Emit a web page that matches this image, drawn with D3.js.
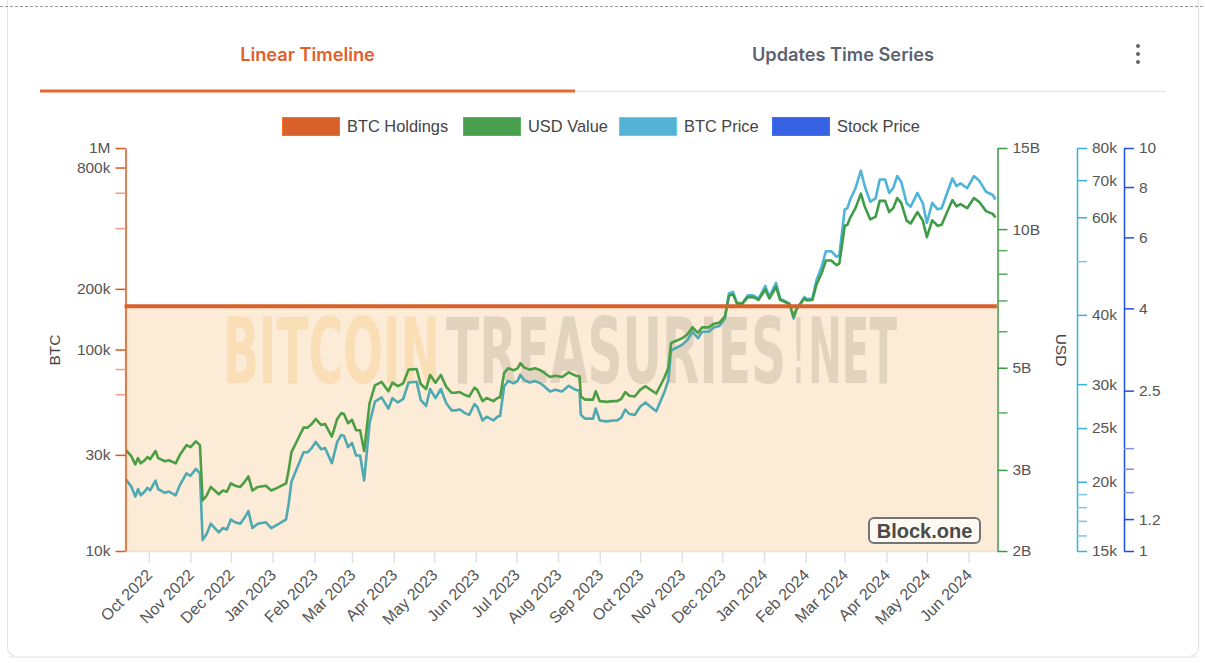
<!DOCTYPE html>
<html><head><meta charset="utf-8">
<script src="https://cdn.jsdelivr.net/npm/d3@7/dist/d3.min.js"></script>
<style>
html,body{margin:0;padding:0;background:#fff;}
svg{display:block;font-family:"Liberation Sans",Arial,Helvetica,sans-serif;}
</style></head><body>
<svg id="c" width="1205" height="663"></svg>
<script>
// ---------------- DATA ----------------
const dates = [
"2022-09-14","2022-09-18","2022-09-21","2022-09-23","2022-09-25","2022-09-28","2022-09-30","2022-10-02","2022-10-06","2022-10-08",
"2022-10-13","2022-10-16","2022-10-21","2022-10-24","2022-10-29","2022-11-01","2022-11-05","2022-11-08","2022-11-10","2022-11-13",
"2022-11-16","2022-11-19","2022-11-22","2022-11-25","2022-11-28","2022-12-01","2022-12-04","2022-12-08","2022-12-11","2022-12-14",
"2022-12-17","2022-12-21","2022-12-27","2022-12-31","2023-01-04","2023-01-11","2023-01-13","2023-01-15","2023-01-21","2023-01-24",
"2023-01-27","2023-01-30","2023-02-02","2023-02-06","2023-02-09","2023-02-14","2023-02-18","2023-02-21","2023-02-23","2023-02-26",
"2023-03-01","2023-03-04","2023-03-07","2023-03-10","2023-03-14","2023-03-18","2023-03-23","2023-03-28","2023-03-31","2023-04-04",
"2023-04-08","2023-04-12","2023-04-18","2023-04-21","2023-04-25","2023-04-28","2023-05-02","2023-05-06","2023-05-10","2023-05-14",
"2023-05-17","2023-05-20","2023-05-24","2023-05-27","2023-05-31","2023-06-02","2023-06-06","2023-06-09","2023-06-14","2023-06-17",
"2023-06-19","2023-06-22","2023-06-25","2023-06-29","2023-07-02","2023-07-04","2023-07-07","2023-07-11","2023-07-15","2023-07-19",
"2023-07-22","2023-07-26","2023-07-30","2023-08-04","2023-08-09","2023-08-14","2023-08-17","2023-08-18","2023-08-21","2023-08-27",
"2023-08-29","2023-09-01","2023-09-06","2023-09-11","2023-09-14","2023-09-17","2023-09-20","2023-09-23","2023-09-27","2023-10-01",
"2023-10-05","2023-10-08","2023-10-13","2023-10-19","2023-10-22","2023-10-24","2023-11-01","2023-11-05","2023-11-09","2023-11-13",
"2023-11-16","2023-11-21","2023-11-25","2023-11-29","2023-12-03","2023-12-06","2023-12-09","2023-12-12","2023-12-16","2023-12-20",
"2023-12-24","2023-12-28","2024-01-02","2024-01-05","2024-01-10","2024-01-13","2024-01-17","2024-01-20","2024-01-23","2024-01-25",
"2024-01-31","2024-02-02","2024-02-06","2024-02-09","2024-02-13","2024-02-16","2024-02-20","2024-02-24","2024-02-26","2024-03-01",
"2024-03-03","2024-03-05","2024-03-09","2024-03-13","2024-03-16","2024-03-20","2024-03-24","2024-03-27","2024-03-31","2024-04-03",
"2024-04-06","2024-04-09","2024-04-12","2024-04-16","2024-04-19","2024-04-24","2024-04-28","2024-05-01","2024-05-05","2024-05-09",
"2024-05-12","2024-05-16","2024-05-20","2024-05-23","2024-05-26","2024-05-31","2024-06-05","2024-06-09","2024-06-14","2024-06-19",
"2024-06-21"];

// BTC price, thousands of USD
const btcPriceK = [
20.2,19.6,18.8,19.4,18.9,19.2,19.5,19.3,20.1,19.4,
19.1,19.2,18.9,19.7,20.7,20.5,21.1,20.7,15.7,16.1,
16.8,16.5,16.2,16.5,16.4,17.1,16.9,16.8,17.2,17.7,
16.5,16.8,16.9,16.5,16.7,17.1,18.3,20.0,21.7,22.6,
22.6,23.0,23.6,22.9,23.0,21.6,23.6,24.3,24.2,23.1,
23.5,22.3,22.3,20.1,25.5,27.9,28.4,27.1,28.3,27.8,
28.2,30.2,30.3,28.1,27.4,29.4,28.3,29.4,27.7,26.9,
26.9,27.0,26.6,26.4,27.6,27.3,25.8,26.2,25.8,26.2,
26.3,29.7,30.4,30.1,30.4,31.2,30.5,30.2,30.4,30.1,
29.7,29.1,29.3,29.1,29.8,29.3,29.2,26.4,26.0,26.0,
27.1,25.8,25.7,25.8,25.8,26.1,27.0,26.5,26.4,27.3,
27.8,27.4,26.8,29.0,30.5,34.5,35.3,36.0,37.3,36.3,
37.3,37.3,38.0,38.2,39.4,43.7,44.0,42.0,42.0,43.4,
43.4,42.8,45.1,43.1,45.7,42.8,42.3,41.9,39.4,40.8,
43.1,42.7,42.8,46.2,49.0,52.1,52.1,50.9,51.3,62.0,
62.3,64.5,67.7,72.8,68.1,64.0,64.9,70.2,70.2,66.4,
67.7,71.2,69.5,63.6,62.7,66.4,63.6,58.6,63.7,62.0,
62.3,66.3,70.5,68.3,69.1,67.7,71.2,69.8,66.7,65.8,
64.6];

// USD value of holdings, billions of USD
const usdValueB = [
3.313,3.214,3.083,3.182,3.100,3.149,3.198,3.165,3.296,3.182,
3.132,3.149,3.100,3.231,3.395,3.362,3.460,3.395,2.575,2.640,
2.755,2.706,2.657,2.706,2.690,2.804,2.772,2.755,2.821,2.903,
2.706,2.755,2.772,2.706,2.739,2.804,3.001,3.280,3.559,3.706,
3.706,3.772,3.870,3.756,3.772,3.542,3.870,3.985,3.969,3.788,
3.854,3.657,3.657,3.296,4.182,4.576,4.658,4.444,4.641,4.559,
4.625,4.953,4.969,4.608,4.494,4.822,4.641,4.822,4.543,4.412,
4.412,4.428,4.362,4.330,4.526,4.477,4.231,4.297,4.231,4.297,
4.313,4.871,4.986,4.936,4.986,5.117,5.002,4.953,4.986,4.936,
4.871,4.772,4.805,4.772,4.887,4.805,4.789,4.330,4.264,4.264,
4.444,4.231,4.215,4.231,4.231,4.280,4.428,4.346,4.330,4.477,
4.559,4.494,4.395,4.756,5.002,5.658,5.789,5.904,6.117,5.953,
6.117,6.117,6.232,6.265,6.462,7.167,7.216,6.888,6.888,7.118,
7.118,7.019,7.396,7.068,7.495,7.019,6.937,6.872,6.462,6.691,
7.068,7.003,7.019,7.577,8.036,8.544,8.544,8.348,8.413,10.168,
10.217,10.578,11.103,11.939,11.168,10.496,10.644,11.513,11.513,10.890,
11.103,11.677,11.398,10.430,10.283,10.890,10.430,9.610,10.447,10.168,
10.217,10.873,11.562,11.201,11.332,11.103,11.677,11.447,10.939,10.791,
10.594];

const holdingsDates = ["2022-09-13","2024-06-22"];
const holdingsBTC = [164000,164000];
const stockPrice = []; // no stock price points shown

const legendNames = ["BTC Holdings","USD Value","BTC Price","Stock Price"];
const legendColors = ["#d9602a","#4a9f4f","#52b3d5","#3762e4"];

const tabNames = ["Linear Timeline","Updates Time Series"];
const companyName = "Block.one";
const watermarkParts = ["BITCOIN","TREASURIES","!","NET"];

const monthTicks = ["2022-10-01","2022-11-01","2022-12-01","2023-01-01","2023-02-01","2023-03-01","2023-04-01",
"2023-05-01","2023-06-01","2023-07-01","2023-08-01","2023-09-01","2023-10-01","2023-11-01","2023-12-01",
"2024-01-01","2024-02-01","2024-03-01","2024-04-01","2024-05-01","2024-06-01"];

const btcTicks = [10000,30000,60000,80000,100000,200000,400000,600000,800000,1000000];
const btcTickLabels = ["10k","30k","","","100k","200k","","","800k","1M"];
const usdTicks = [2e9,3e9,4e9,5e9,6e9,7e9,8e9,9e9,10e9,15e9];
const usdTickLabels = ["2B","3B","","5B","","","","","10B","15B"];
const priceTicks = [15000,16000,17000,18000,19000,20000,25000,30000,40000,50000,60000,70000,80000];
const priceTickLabels = ["15k","","","","","20k","25k","30k","40k","","60k","70k","80k"];
const stockTicks = [1,1.2,1.4,1.6,1.8,2.5,4,6,8,10];
const stockTickLabels = ["1","1.2","","","","2.5","4","6","8","10"];

// ---------------- CHART ----------------
const parse = d3.timeParse("%Y-%m-%d");
const svg = d3.select("#c");
const W = 1205, H = 663;
const L = 125.5, R = 997.5, T = 148, B = 551;

// card
svg.append("rect").attr("x",7.5).attr("y",-20).attr("width",1191).attr("height",676.5)
  .attr("rx",9).attr("fill","#fff").attr("stroke","#e4e4e4").attr("stroke-width",1.2);
svg.append("rect").attr("x",9).attr("y",656).attr("width",1188).attr("height",2).attr("fill","#f1f1f1");
svg.append("line").attr("x1",0).attr("x2",W).attr("y1",6.5).attr("y2",6.5)
  .attr("stroke","#9c9c9c").attr("stroke-width",1).attr("stroke-dasharray","3,2");

// tabs
const tabFont = "Inter, 'Open Sans', sans-serif";
svg.append("text").attr("x",307.5).attr("y",61).attr("text-anchor","middle")
  .attr("font-family",tabFont).attr("font-weight",600).attr("font-size",18.2)
  .attr("fill","#e0602a").text(tabNames[0]);
svg.append("text").attr("x",843).attr("y",61).attr("text-anchor","middle")
  .attr("font-family",tabFont).attr("font-weight",600).attr("font-size",18.2)
  .attr("fill","#5d6270").text(tabNames[1]);
[46,54,62].forEach(cy=>svg.append("circle").attr("cx",1138).attr("cy",cy).attr("r",2).attr("fill","#666"));
svg.append("line").attr("x1",575).attr("x2",1166).attr("y1",91.5).attr("y2",91.5).attr("stroke","#e6e6e6").attr("stroke-width",1.5);
svg.append("rect").attr("x",40).attr("y",89.5).attr("width",535).attr("height",3).attr("fill","#e5692f");

// legend
const legX = [282, 463, 619, 772];
legendNames.forEach((n,i)=>{
  const g = svg.append("g").attr("transform",`translate(${legX[i]},117)`);
  g.append("rect").attr("x",0.5).attr("y",0.5).attr("width",57).attr("height",18)
    .attr("fill",legendColors[i]).attr("stroke",d3.color(legendColors[i]).brighter(0.4)).attr("stroke-width",1);
  g.append("text").attr("x",65).attr("y",15).attr("font-size",16.4).attr("fill","#444").text(n);
});

// scales
const x = d3.scaleTime().domain([new Date(2022,8,13,17), new Date(2024,5,22,12)]).range([L,R]);
const yBTC = d3.scaleLog().domain([1e4,1e6]).range([B,T]);
const yUSD = d3.scaleLog().domain([2e9,15e9]).range([B,T]);
const yPrice = d3.scaleLog().domain([15000,80000]).range([B,T]);
const yStock = d3.scaleLog().domain([1,10]).range([B,T]);

const hold = holdingsDates.map((d,i)=>({d:parse(d), v:holdingsBTC[i]}));
const series = dates.map((d,i)=>({d:parse(d), p:btcPriceK[i]*1000, u:usdValueB[i]*1e9}));
const yHold = yBTC(holdingsBTC[0]);

// area fill under holdings
svg.append("path").datum(hold)
  .attr("d", d3.area().x(d=>x(d.d)).y0(B).y1(d=>yBTC(d.v)))
  .attr("fill","#fbebd7");

// watermark (separate pieces laid side by side, horizontally scaled to fit)
const wmFont = "'Liberation Sans Narrow','DejaVu Sans Condensed','Liberation Sans',sans-serif";
const wmOrange = "rgba(247,196,120,0.34)", wmGrey = "rgba(170,155,135,0.30)";
const wmLayout = [[223,217,wmOrange],[446,340,wmGrey],[793,11,wmGrey],[808,89,wmGrey]];
watermarkParts.forEach((t,i)=>{
  const [wx,wl,wc] = wmLayout[i];
  const tx = svg.append("text").attr("x",0).attr("y",0)
    .attr("font-family",wmFont).attr("font-weight",700).attr("font-size",91)
    .attr("fill",wc).text(t);
  const w = tx.node().getComputedTextLength() || wl;
  tx.attr("transform",`translate(${wx},383) scale(${wl/w},1)`);
});

// clip regions above/below holdings line
const defs = svg.append("defs");
defs.append("clipPath").attr("id","above").append("rect").attr("x",L).attr("y",T-20).attr("width",R-L+2).attr("height",yHold-T+20);
defs.append("clipPath").attr("id","below").append("rect").attr("x",L).attr("y",yHold).attr("width",R-L+2).attr("height",B-yHold+5);

const linePrice = d3.line().x(d=>x(d.d)).y(d=>yPrice(d.p));
const lineUSD = d3.line().x(d=>x(d.d)).y(d=>yUSD(d.u));
[["above","#4fb4da","#3f9c46"],["below","#4eaab0","#4c9e45"]].forEach(([cp,cCol,gCol])=>{
  const g = svg.append("g").attr("clip-path",`url(#${cp})`);
  g.append("path").datum(series).attr("d",linePrice).attr("fill","none")
    .attr("stroke",cCol).attr("stroke-width",2.6).attr("stroke-linejoin","round");
  g.append("path").datum(series).attr("d",lineUSD).attr("fill","none")
    .attr("stroke",gCol).attr("stroke-width",2.6).attr("stroke-linejoin","round");
});

// holdings line
svg.append("path").datum(hold)
  .attr("d", d3.line().x(d=>x(d.d)).y(d=>yBTC(d.v)))
  .attr("fill","none").attr("stroke","#d9602a").attr("stroke-width",4);

// x axis
const xAx = svg.append("g").attr("transform",`translate(0,${B})`)
  .call(d3.axisBottom(x).tickValues(monthTicks.map(parse)).tickFormat(d3.timeFormat("%b %Y")).tickSize(12).tickSizeOuter(0));
xAx.select(".domain").attr("stroke","#e2e2e2").attr("stroke-width",1.5);
xAx.selectAll(".tick line").attr("stroke","#e2e2e2").attr("stroke-width",1.5);
xAx.selectAll(".tick text").attr("x",0).attr("y",0).attr("dy",0)
  .attr("text-anchor","end").attr("transform","translate(4,25) rotate(-45)")
  .attr("font-size",16).attr("fill","#555").attr("font-family","'Liberation Sans',Arial,sans-serif");

function styleAxis(g, col, minorCol, labels){
  g.select(".domain").attr("stroke",col).attr("stroke-width",1.5);
  g.selectAll(".tick line").attr("stroke",(d,i)=>labels[i]===""?minorCol:col).attr("stroke-width",1.5);
  g.selectAll(".tick text").attr("font-size",15.5).attr("fill","#555").attr("font-family","'Liberation Sans',Arial,sans-serif");
}

const aL = svg.append("g").attr("transform",`translate(${L},0)`)
  .call(d3.axisLeft(yBTC).tickValues(btcTicks).tickFormat((d,i)=>btcTickLabels[i]).tickSize(10).tickPadding(5).tickSizeOuter(0));
styleAxis(aL,"#e0561f","#eba08a",btcTickLabels);

const aU = svg.append("g").attr("transform",`translate(${R},0)`)
  .call(d3.axisRight(yUSD).tickValues(usdTicks).tickFormat((d,i)=>usdTickLabels[i]).tickSize(10).tickPadding(5).tickSizeOuter(0));
styleAxis(aU,"#3d9a43","#5aab5e",usdTickLabels);

const aP = svg.append("g").attr("transform",`translate(1077,0)`)
  .call(d3.axisRight(yPrice).tickValues(priceTicks).tickFormat((d,i)=>priceTickLabels[i]).tickSize(10).tickPadding(5).tickSizeOuter(0));
styleAxis(aP,"#3ab3dc","#7cc6df",priceTickLabels);

const aS = svg.append("g").attr("transform",`translate(1124,0)`)
  .call(d3.axisRight(yStock).tickValues(stockTicks).tickFormat((d,i)=>stockTickLabels[i]).tickSize(10).tickPadding(5).tickSizeOuter(0));
styleAxis(aS,"#1f4fe0","#7d92e8",stockTickLabels);

// axis titles
svg.append("text").attr("transform","translate(60,350) rotate(-90)").attr("text-anchor","middle")
  .attr("font-size",15.5).attr("fill","#444").text("BTC");
svg.append("text").attr("transform","translate(1056,350) rotate(90)").attr("text-anchor","middle")
  .attr("font-size",15.5).attr("fill","#444").text("USD");

// company label
svg.append("rect").attr("x",869).attr("y",518).attr("width",111).attr("height",25).attr("rx",5)
  .attr("fill","rgba(255,255,255,0.7)").attr("stroke","#747474").attr("stroke-width",2);
svg.append("text").attr("x",924.5).attr("y",537.5).attr("text-anchor","middle")
  .attr("font-size",20).attr("font-weight",700).attr("fill","#4a4a4a").text(companyName);
</script>
</body></html>
